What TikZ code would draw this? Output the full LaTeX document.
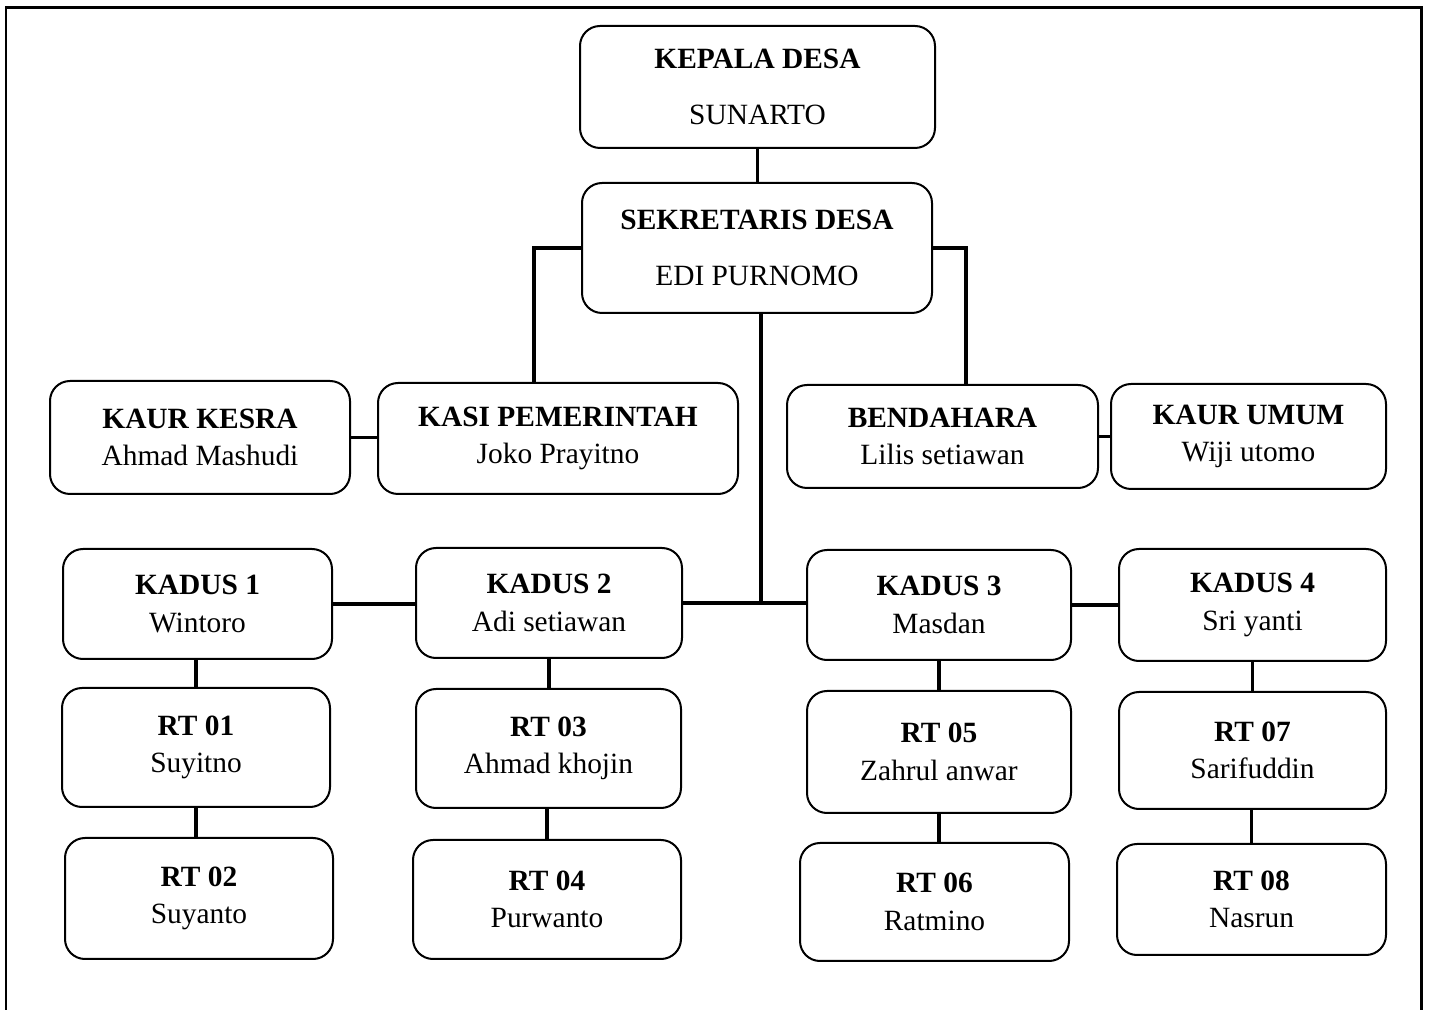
\documentclass[tikz,border=0pt]{standalone}
\usepackage{fontspec}
\setmainfont{Liberation Serif}
\usetikzlibrary{positioning}
\tikzset{
  % kotak jabatan
  jabatan/.style={draw,rounded corners=10pt,line width=1pt,align=center,inner sep=0pt,
    font=\fontsize{14.7}{18.8}\selectfont},
  % garis penghubung
  garis/.style={line width=1.8pt},
  bingkai/.style={line width=1.2pt},
}
\begin{document}
\begin{tikzpicture}[x=0.5pt,y=-0.5pt]
  \useasboundingbox (0,0) rectangle (1432,1010);
  \draw[bingkai] (6,1012) -- (6,7.5) -- (1421.5,7.5) -- (1421.5,1012);
  % pimpinan
  \node[jabatan,minimum width=177.5pt,minimum height=61pt] (kades) at (757.5,87) {\textbf{KEPALA DESA}\\[9.6pt]SUNARTO};
  \node[jabatan,minimum width=175pt,minimum height=65pt] (sekdes) at (757,248) {\textbf{SEKRETARIS DESA}\\[9.6pt]EDI PURNOMO};
  % staf
  \node[jabatan,minimum width=150pt,minimum height=56.5pt] (kesra) at (200,437.5) {\textbf{KAUR KESRA}\\Ahmad Mashudi};
  \node[jabatan,minimum width=180pt,minimum height=55.5pt] (kasi) at (558,438.5) {\textbf{KASI PEMERINTAH}\\Joko Prayitno};
  \node[jabatan,minimum width=155.5pt,minimum height=51.5pt] (bendahara) at (942.5,436.5) {\textbf{BENDAHARA}\\Lilis setiawan};
  \node[jabatan,minimum width=137.5pt,minimum height=52.5pt] (umum) at (1248.5,436.5) {\textbf{KAUR UMUM}\\Wiji utomo};
  % kadus
  \node[jabatan,minimum width=134.5pt,minimum height=55pt] (kadus1) at (197.5,604) {\textbf{KADUS 1}\\Wintoro};
  \node[jabatan,minimum width=133pt,minimum height=55pt] (kadus2) at (549,603) {\textbf{KADUS 2}\\Adi setiawan};
  \node[jabatan,minimum width=132pt,minimum height=55pt] (kadus3) at (939,605) {\textbf{KADUS 3}\\Masdan};
  \node[jabatan,minimum width=133.5pt,minimum height=56pt] (kadus4) at (1252.5,605) {\textbf{KADUS 4}\\Sri yanti};
  % rt
  \node[jabatan,minimum width=134pt,minimum height=59.5pt] (rt01) at (196,747.5) {\textbf{RT 01}\\Suyitno};
  \node[jabatan,minimum width=134pt,minimum height=60.5pt] (rt02) at (199,898.5) {\textbf{RT 02}\\Suyanto};
  \node[jabatan,minimum width=132.5pt,minimum height=59.5pt] (rt03) at (548.5,748.5) {\textbf{RT 03}\\Ahmad khojin};
  \node[jabatan,minimum width=134pt,minimum height=59.5pt] (rt04) at (547,899.5) {\textbf{RT 04}\\Purwanto};
  \node[jabatan,minimum width=132pt,minimum height=61pt] (rt05) at (939,752) {\textbf{RT 05}\\Zahrul anwar};
  \node[jabatan,minimum width=134.5pt,minimum height=59pt] (rt06) at (934.5,902) {\textbf{RT 06}\\Ratmino};
  \node[jabatan,minimum width=133.5pt,minimum height=58.5pt] (rt07) at (1252.5,750.5) {\textbf{RT 07}\\Sarifuddin};
  \node[jabatan,minimum width=134.5pt,minimum height=55.5pt] (rt08) at (1251.5,899.5) {\textbf{RT 08}\\Nasrun};
  % titik bantu
  \coordinate (kasitop) at (534,383);
  \coordinate (bendtop) at (966,385);
  \coordinate (hub) at (761,604);
  % penghubung
  \draw[garis] (kades.south) -- (kades.south |- sekdes.north);
  \draw[garis] (sekdes.west) -| (kasitop);
  \draw[garis] (sekdes.east) -| (bendtop);
  \draw[garis] (kesra.east) -- (kesra.east -| kasi.west);
  \draw[garis] (bendahara.east) -- (bendahara.east -| umum.west);
  \draw[garis] (hub |- sekdes.south) -- (hub);
  \draw[garis] (kadus2.east) -- (kadus2.east -| kadus3.west);
  \draw[garis] (kadus1.east) -- (kadus1.east -| kadus2.west);
  \draw[garis] (kadus3.east) -- (kadus3.east -| kadus4.west);
  \draw[garis] (rt01.north |- kadus1.south) -- (rt01.north);
  \draw[garis] (rt01.south) -- (rt01.south |- rt02.north);
  \draw[garis] (kadus2.south) -- (kadus2.south |- rt03.north);
  \draw[garis] (rt04.north |- rt03.south) -- (rt04.north);
  \draw[garis] (kadus3.south) -- (kadus3.south |- rt05.north);
  \draw[garis] (rt05.south) -- (rt05.south |- rt06.north);
  \draw[garis] (kadus4.south) -- (kadus4.south |- rt07.north);
  \draw[garis] (rt08.north |- rt07.south) -- (rt08.north);
\end{tikzpicture}
\end{document}
